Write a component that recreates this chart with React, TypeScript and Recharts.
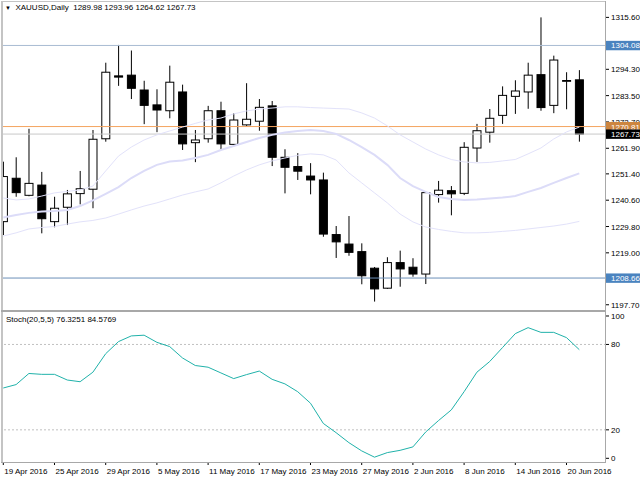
import React from "react";
import { ComposedChart, Bar, Line, XAxis, YAxis, ReferenceLine } from "recharts";

// trading days shown on the chart
const dates = [
  "19 Apr 2016", "20 Apr 2016", "21 Apr 2016", "22 Apr 2016", "25 Apr 2016", "26 Apr 2016",
  "27 Apr 2016", "28 Apr 2016", "29 Apr 2016", "2 May 2016", "3 May 2016", "4 May 2016",
  "5 May 2016", "6 May 2016", "9 May 2016", "10 May 2016", "11 May 2016", "12 May 2016",
  "13 May 2016", "16 May 2016", "17 May 2016", "18 May 2016", "19 May 2016", "20 May 2016",
  "23 May 2016", "24 May 2016", "25 May 2016", "26 May 2016", "27 May 2016", "30 May 2016",
  "31 May 2016", "1 Jun 2016", "2 Jun 2016", "3 Jun 2016", "6 Jun 2016", "7 Jun 2016",
  "8 Jun 2016", "9 Jun 2016", "10 Jun 2016", "13 Jun 2016", "14 Jun 2016", "15 Jun 2016",
  "16 Jun 2016", "17 Jun 2016", "20 Jun 2016", "21 Jun 2016",
];

const open = [
  1231.8, 1249.6, 1242.6, 1246.8, 1231.8, 1237.7, 1243.3, 1245.1, 1265.8, 1291.6,
  1291.9, 1285.8, 1279.7, 1277.3, 1285.0, 1264.2, 1265.8, 1277.3, 1263.5, 1271.5,
  1273.0, 1279.3, 1258.2, 1254.4, 1250.5, 1248.9, 1226.5, 1222.6, 1219.5, 1212.7,
  1204.5, 1215.0, 1213.1, 1210.3, 1242.9, 1244.5, 1243.4, 1262.0, 1268.5, 1275.4,
  1283.2, 1285.0, 1292.1, 1279.5, 1289.4, 1289.98,
];
const high = [
  1256.4, 1258.2, 1269.9, 1252.2, 1242.0, 1244.8, 1252.6, 1269.4, 1297.0, 1304.3,
  1302.0, 1289.6, 1286.1, 1295.8, 1288.0, 1269.4, 1279.3, 1281.0, 1276.3, 1288.6,
  1282.1, 1281.3, 1261.5, 1259.9, 1255.8, 1251.9, 1230.0, 1234.1, 1222.9, 1213.2,
  1217.2, 1219.9, 1216.8, 1244.0, 1248.5, 1246.4, 1264.4, 1271.9, 1278.0, 1287.3,
  1289.8, 1297.0, 1315.6, 1299.9, 1293.1, 1293.96,
];
const low = [
  1226.3, 1242.0, 1242.2, 1227.0, 1229.5, 1230.4, 1238.9, 1237.3, 1264.6, 1287.5,
  1282.1, 1271.8, 1268.5, 1274.2, 1261.2, 1256.2, 1264.2, 1261.5, 1263.3, 1271.1,
  1269.1, 1254.6, 1243.4, 1248.9, 1243.0, 1225.6, 1216.9, 1217.8, 1206.1, 1199.0,
  1204.2, 1205.1, 1209.2, 1206.2, 1239.6, 1234.4, 1242.7, 1256.3, 1264.2, 1271.9,
  1276.0, 1278.1, 1277.3, 1276.3, 1277.9, 1264.62,
];
const close = [
  1250.3, 1243.7, 1247.5, 1233.0, 1237.3, 1243.2, 1245.3, 1265.6, 1293.1, 1291.1,
  1286.5, 1279.5, 1277.6, 1289.0, 1263.7, 1265.3, 1277.3, 1263.7, 1273.5, 1273.8,
  1278.7, 1258.2, 1254.1, 1252.5, 1248.9, 1226.7, 1223.5, 1219.2, 1209.6, 1204.2,
  1215.0, 1212.4, 1210.3, 1243.7, 1244.7, 1243.2, 1262.3, 1269.1, 1274.2, 1283.6,
  1285.4, 1291.9, 1278.6, 1298.1, 1289.7, 1267.73,
];

// bands around price
const bandUpper = [
  1241.5, 1240.7, 1241.1, 1242.3, 1243.6, 1244.2, 1244.8, 1246.4, 1252.6, 1258.7,
  1262.4, 1265.3, 1267.4, 1269.0, 1270.6, 1272.1, 1273.5, 1274.3, 1276.0, 1277.2,
  1278.0, 1278.4, 1278.9, 1278.9, 1278.6, 1278.4, 1278.2, 1278.0, 1276.4, 1274.3,
  1271.1, 1267.4, 1264.5, 1261.6, 1259.2, 1257.3, 1256.3, 1255.9, 1256.1, 1256.7,
  1257.3, 1259.6, 1262.0, 1265.7, 1268.6, 1270.6,
];
const bandMiddle = [
  1233.5, 1234.5, 1235.4, 1236.0, 1236.2, 1236.6, 1238.2, 1240.5, 1243.2, 1246.0,
  1249.7, 1252.6, 1255.1, 1256.5, 1256.9, 1257.9, 1259.2, 1261.2, 1262.8, 1264.5,
  1266.1, 1267.4, 1268.4, 1269.0, 1269.4, 1269.0, 1267.8, 1265.3, 1262.4, 1259.2,
  1255.1, 1249.7, 1246.4, 1244.0, 1241.9, 1241.1, 1240.7, 1240.9, 1241.3, 1241.7,
  1242.3, 1244.0, 1245.6, 1247.7, 1249.7, 1251.6,
];
const bandLower = [
  1225.9, 1227.2, 1228.8, 1229.4, 1229.8, 1230.8, 1231.7, 1232.3, 1233.3, 1234.9,
  1236.6, 1238.2, 1239.5, 1241.1, 1242.7, 1244.0, 1245.2, 1247.7, 1250.5, 1253.0,
  1255.1, 1256.7, 1257.9, 1259.0, 1259.6, 1259.2, 1257.1, 1251.8, 1247.7, 1243.6,
  1239.5, 1234.9, 1231.7, 1229.6, 1228.6, 1227.8, 1227.2, 1227.2, 1227.4, 1227.8,
  1228.2, 1228.8, 1229.4, 1230.0, 1230.8, 1231.9,
];

const stochMain = [
  49.4, 51.8, 59.6, 59.0, 59.0, 55.0, 53.8, 60.5, 73.5, 82.0,
  86.0, 86.5, 81.5, 78.5, 70.5, 65.2, 64.0, 60.0, 56.0, 58.8,
  61.3, 55.5, 52.3, 46.8, 38.7, 24.5, 18.0, 11.0, 5.2, 0.8,
  4.0, 5.6, 8.0, 18.5, 26.5, 34.0, 46.8, 60.5, 68.0, 77.8,
  87.6, 91.8, 88.5, 88.5, 84.8, 76.3251,
];
const stochSignal = 84.5769;

const priceTicks = [1197.7, 1219.0, 1229.8, 1240.6, 1251.4, 1261.9, 1272.7, 1283.5, 1294.3, 1315.6];
const stochTicks = [0, 20, 80, 100];
const dateTicks = [0, 4, 8, 12, 16, 20, 24, 28, 32, 36, 40, 44];

const levelHigh = 1304.08;
const levelLow = 1208.66;
const levelOrange = 1270.81;

const data = dates.map((d, i) => ({
  i,
  date: d,
  o: open[i],
  h: high[i],
  l: low[i],
  c: close[i],
  range: [low[i], high[i]],
  upper: bandUpper[i],
  mid: bandMiddle[i],
  lower: bandLower[i],
  stoch: stochMain[i],
}));

const last = data[data.length - 1];
const xDomain = [-0.023, 47.086];
const FONT = "'Liberation Sans', Arial, sans-serif";

// price tags drawn on the right scale, painted after the plain ticks
const tagColors: Record<string, string> = {
  [levelHigh.toFixed(2)]: "#4a83bf",
  [levelLow.toFixed(2)]: "#4a83bf",
  [levelOrange.toFixed(2)]: "#cd853f",
  [last.c.toFixed(2)]: "#000",
};
const axisTicks = [...priceTicks, levelHigh, levelLow, levelOrange, last.c];

function Candle(props: any) {
  const { x, y, width, height, payload } = props;
  const { o, h, l, c } = payload;
  const cx = x + width / 2;
  const k = height / (h - l || 1);
  const yO = y + (h - o) * k;
  const yC = y + (h - c) * k;
  const up = c >= o;
  const top = Math.min(yO, yC);
  const bh = Math.max(Math.abs(yC - yO), 0.8);
  return (
    <g>
      <line x1={cx} x2={cx} y1={y} y2={y + height} stroke="#000" strokeWidth={1} />
      <rect x={cx - 4} y={top} width={8} height={bh} fill={up ? "#fff" : "#000"} stroke="#000" strokeWidth={1} />
    </g>
  );
}

function PriceTick(props: any) {
  const { x, y, payload } = props;
  const label = Number(payload.value).toFixed(2);
  const bg = tagColors[label];
  if (bg) {
    return (
      <g>
        <rect x={x - 5} y={y - 4.6} width={40} height={9.4} fill={bg} />
        <text x={x} y={y + 3} fontSize={8} fill="#fff" fontFamily={FONT}>
          {label}
        </text>
      </g>
    );
  }
  return (
    <text x={x} y={y + 3} fontSize={8} fill="#000" fontFamily={FONT}>
      {label}
    </text>
  );
}

function DateTick(props: any) {
  const { x, y, payload } = props;
  return (
    <text x={x + 1} y={y + 7} fontSize={8} fill="#000" textAnchor="start" fontFamily={FONT}>
      {dates[payload.value]}
    </text>
  );
}

const frame = "#c4c4c4";

export default function App() {
  return (
    <div style={{ position: "absolute", left: 0, top: 0, width: 640, height: 480, background: "#fff", fontFamily: FONT }}>
      {/* price pane */}
      <div style={{ position: "absolute", left: 0, top: 0 }}>
        <ComposedChart width={640} height={311} data={data} margin={{ top: 3, right: 0, bottom: 1, left: 3 }}>
          <XAxis type="number" dataKey="i" domain={xDomain} allowDataOverflow hide />
          <YAxis
            orientation="right"
            width={34}
            domain={[1195.55, 1321.5]}
            allowDataOverflow
            ticks={axisTicks}
            interval={0}
            axisLine={false}
            tickSize={3}
            tickLine={{ stroke: "#000" }}
            tick={PriceTick}
          />
          <ReferenceLine y={levelHigh} stroke="#a9bcd3" />
          <ReferenceLine y={levelLow} stroke="#6b8fb8" />
          <ReferenceLine y={last.c} stroke="#c8c8c8" />
          <ReferenceLine y={levelOrange} stroke="#f4a460" />
          <Bar dataKey="range" barSize={9} shape={Candle} isAnimationActive={false} />
          <Line dataKey="upper" stroke="#e2e2fa" strokeWidth={1} dot={false} isAnimationActive={false} />
          <Line dataKey="mid" stroke="#dcdcf8" strokeWidth={2} dot={false} isAnimationActive={false} />
          <Line dataKey="lower" stroke="#e2e2fa" strokeWidth={1} dot={false} isAnimationActive={false} />
        </ComposedChart>
      </div>

      {/* stochastic pane */}
      <div style={{ position: "absolute", left: 0, top: 312 }}>
        <ComposedChart width={640} height={168} data={data} margin={{ top: 0, right: 0, bottom: 0, left: 3 }}>
          <XAxis
            type="number"
            dataKey="i"
            domain={xDomain}
            allowDataOverflow
            ticks={dateTicks}
            interval={0}
            height={18}
            axisLine={false}
            tickSize={3}
            tickLine={{ stroke: "#000" }}
            tick={DateTick}
          />
          <YAxis
            orientation="right"
            width={34}
            domain={[-2.6, 102.8]}
            allowDataOverflow
            ticks={stochTicks}
            interval={0}
            axisLine={false}
            tickSize={3}
            tickLine={{ stroke: "#000" }}
            tick={{ fontSize: 8, fill: "#000" }}
          />
          <ReferenceLine y={80} stroke="#c0c0c0" strokeDasharray="2 2" />
          <ReferenceLine y={20} stroke="#c0c0c0" strokeDasharray="2 2" />
          <Line dataKey="stoch" stroke="#20b2aa" strokeWidth={1} dot={false} isAnimationActive={false} />
        </ComposedChart>
      </div>

      {/* frame */}
      <div style={{ position: "absolute", left: 1, top: 1, width: 2, height: 462, background: frame }} />
      <div style={{ position: "absolute", left: 1, top: 1, width: 605, height: 1, background: frame }} />
      <div style={{ position: "absolute", left: 605, top: 1, width: 1, height: 462, background: "#a8a8a8" }} />
      <div style={{ position: "absolute", left: 1, top: 310, width: 605, height: 2, background: "#a8a8a8" }} />
      <div style={{ position: "absolute", left: 1, top: 462, width: 605, height: 1, background: "#a8a8a8" }} />

      {/* titles */}
      <div style={{ position: "absolute", left: 5, top: 3, fontSize: 8, color: "#000", whiteSpace: "pre", lineHeight: "10px" }}>
        <span style={{ fontSize: 6 }}>▼</span>
        {"  XAUUSD,Daily  " + [last.o, last.h, last.l, last.c].map((v) => v.toFixed(2)).join(" ")}
      </div>
      <div style={{ position: "absolute", left: 6, top: 315, fontSize: 8, color: "#000", whiteSpace: "pre", lineHeight: "10px" }}>
        {"Stoch(20,5,5) " + last.stoch.toFixed(4) + " " + stochSignal.toFixed(4)}
      </div>
    </div>
  );
}
